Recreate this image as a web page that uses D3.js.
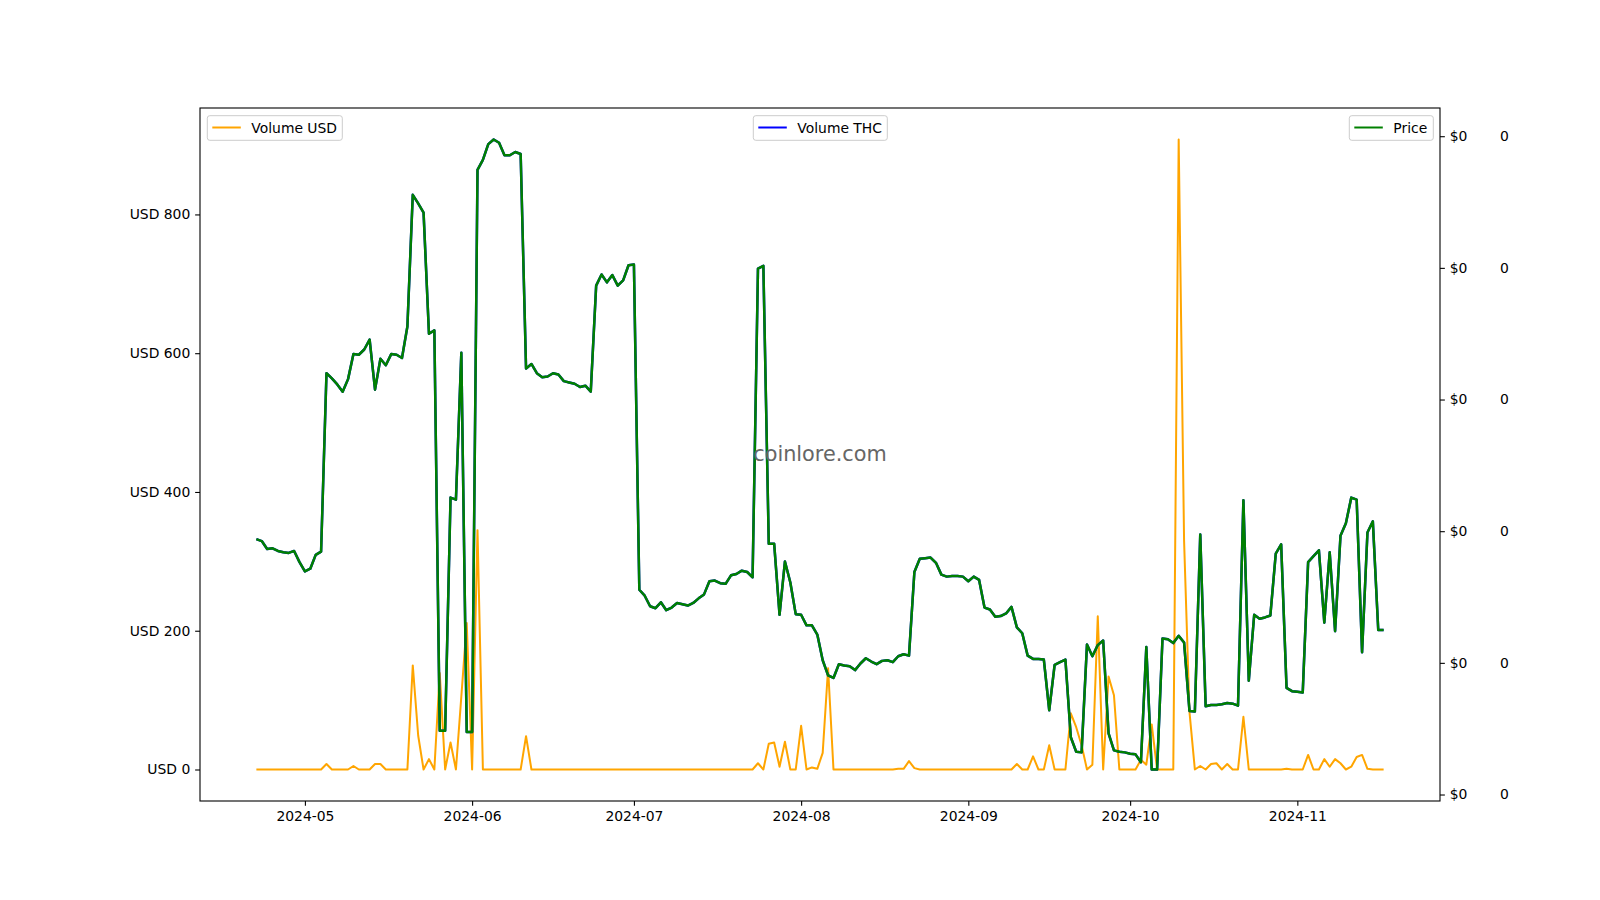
<!DOCTYPE html>
<html>
<head>
<meta charset="utf-8">
<script src="https://cdn.jsdelivr.net/npm/d3@7"></script>
<style>
  html, body { margin: 0; padding: 0; background: #ffffff; }
  svg { display: block; font-family: "DejaVu Sans", sans-serif; }
</style>
</head>
<body>
<svg id="chart" width="1600" height="900"></svg>
<script>
// ---- data ----
const startDate = "2024-04-22";
const endDate = "2024-11-17";

const volumeUSD = [
  0,0,0,0,0,0,0,0,0,0,
  0,0,0,8,0,0,0,0,5,0,
  0,0,8,8,0,0,0,0,0,150,
  49,0,15,0,139,0,39,0,105,211,
  0,345,0,0,0,0,0,0,0,0,
  48,0,0,0,0,0,0,0,0,0,
  0,0,0,0,0,0,0,0,0,0,
  0,0,0,0,0,0,0,0,0,0,
  0,0,0,0,0,0,0,0,0,0,
  0,0,0,9,0,37,39,4,40,0,
  0,63,0,3,1,24,146,0,0,0,
  0,0,0,0,0,0,0,0,0,1,
  1,12,2,0,0,0,0,0,0,0,
  0,0,0,0,0,0,0,0,0,0,
  0,8,0,0,19,0,0,35,0,0,
  0,81,61,35,0,7,221,0,134,107,
  0,0,0,0,14,7,65,0,0,0,
  0,908,330,83,0,5,0,8,9,0,
  8,0,0,76,0,0,0,0,0,0,
  0,1,0,0,0,21,0,0,15,4,
  15,9,0,4,18,21,1,0,0,0
];

const price = [
  0.1388,0.1385,0.1373,0.1374,0.1370,0.1368,0.1367,0.1370,0.1353,0.1339,
  0.1343,0.1364,0.1369,0.1640,0.1632,0.1623,0.1612,0.1631,0.1669,0.1668,
  0.1676,0.1691,0.1615,0.1662,0.1652,0.1669,0.1668,0.1663,0.1711,0.1911,
  0.1898,0.1884,0.1700,0.1705,0.1097,0.1097,0.1451,0.1448,0.1671,0.1095,
  0.1095,0.1949,0.1964,0.1988,0.1995,0.1990,0.1971,0.1971,0.1976,0.1973,
  0.1647,0.1654,0.1640,0.1634,0.1635,0.1640,0.1638,0.1628,0.1626,0.1624,
  0.1619,0.1621,0.1612,0.1773,0.1790,0.1778,0.1789,0.1773,0.1781,0.1804,
  0.1805,0.1311,0.1302,0.1286,0.1283,0.1292,0.1280,0.1284,0.1291,0.1289,
  0.1287,0.1291,0.1298,0.1304,0.1324,0.1325,0.1321,0.1320,0.1333,0.1335,
  0.1340,0.1338,0.1330,0.1799,0.1803,0.1381,0.1381,0.1273,0.1354,0.1322,
  0.1274,0.1273,0.1257,0.1257,0.1243,0.1204,0.1181,0.1177,0.1198,0.1196,
  0.1195,0.1189,0.1199,0.1207,0.1202,0.1198,0.1203,0.1204,0.1201,0.1210,
  0.1213,0.1211,0.1338,0.1358,0.1359,0.1360,0.1352,0.1334,0.1331,0.1332,
  0.1332,0.1331,0.1324,0.1331,0.1326,0.1284,0.1281,0.1270,0.1271,0.1275,
  0.1285,0.1254,0.1245,0.1211,0.1206,0.1206,0.1205,0.1128,0.1197,0.1201,
  0.1205,0.1087,0.1065,0.1064,0.1228,0.1210,0.1227,0.1234,0.1093,0.1067,
  0.1065,0.1064,0.1062,0.1061,0.1049,0.1224,0.1038,0.1038,0.1237,0.1236,
  0.1230,0.1241,0.1231,0.1127,0.1126,0.1395,0.1134,0.1136,0.1136,0.1137,
  0.1139,0.1138,0.1135,0.1447,0.1173,0.1273,0.1267,0.1269,0.1272,0.1366,
  0.1380,0.1162,0.1157,0.1156,0.1155,0.1353,0.1362,0.1371,0.1261,0.1368,
  0.1248,0.1393,0.1412,0.1451,0.1448,0.1216,0.1398,0.1415,0.1250,0.1250
];

// The blue "Volume THC" series lies exactly under the price line (its axis ticks coincide).
const volumeTHC = price;

const volumeTicks = [0, 200, 400, 600, 800];
const priceTicks = [0.10, 0.12, 0.14, 0.16, 0.18, 0.20];
const monthTicks = ["2024-05-01","2024-06-01","2024-07-01","2024-08-01","2024-09-01","2024-10-01","2024-11-01"];

const seriesNames = { usd: "Volume USD", thc: "Volume THC", price: "Price" };
const colors = { usd: "#ffa500", thc: "#0000ff", price: "#008000" };
const watermark = "coinlore.com";

// ---- layout ----
const L = 200, R = 1440, T = 108, B = 801;
const FONT = 13.9;
const TICK = 4.86;

const parse = d3.utcParse("%Y-%m-%d");
const dates = d3.utcDay.range(parse(startDate), d3.utcDay.offset(parse(endDate), 1));
const usdData = dates.map((d, i) => ({ d, v: volumeUSD[i] }));
const thcData = dates.map((d, i) => ({ d, v: volumeTHC[i] }));
const priceData = dates.map((d, i) => ({ d, v: price[i] }));

function padDomain(lo, hi) {
  const m = (hi - lo) * 0.05;
  return [lo - m, hi + m];
}

const t0 = +dates[0], t1 = +dates[dates.length - 1];
const x = d3.scaleUtc()
  .domain(padDomain(t0, t1).map(v => new Date(v)))
  .range([L, R]);

const yUsd = d3.scaleLinear()
  .domain(padDomain(d3.min(volumeUSD), d3.max(volumeUSD)))
  .range([B, T]);

const yPrice = d3.scaleLinear()
  .domain(padDomain(d3.min(price), d3.max(price)))
  .range([B, T]);

const yThc = d3.scaleLinear()
  .domain(padDomain(d3.min(volumeTHC), d3.max(volumeTHC)))
  .range([B, T]);

const svg = d3.select("#chart");
svg.append("rect").attr("width", 1600).attr("height", 900).attr("fill", "#ffffff");

svg.append("defs").append("clipPath").attr("id", "plotclip")
  .append("rect").attr("x", L).attr("y", T).attr("width", R - L).attr("height", B - T);

const plot = svg.append("g").attr("clip-path", "url(#plotclip)");

const lineGen = (ys) => d3.line().x(p => x(p.d)).y(p => ys(p.v));

plot.append("path").datum(usdData)
  .attr("d", lineGen(yUsd))
  .attr("fill", "none").attr("stroke", colors.usd)
  .attr("stroke-width", 2).attr("stroke-linejoin", "round");

plot.append("path").datum(thcData)
  .attr("d", lineGen(yThc))
  .attr("fill", "none").attr("stroke", colors.thc)
  .attr("stroke-width", 2.5).attr("stroke-linejoin", "round");

plot.append("path").datum(priceData)
  .attr("d", lineGen(yPrice))
  .attr("fill", "none").attr("stroke", colors.price)
  .attr("stroke-width", 2.5).attr("stroke-linejoin", "round");

// watermark
svg.append("text")
  .attr("x", (L + R) / 2).attr("y", (T + B) / 2 - 1)
  .attr("text-anchor", "middle").attr("dominant-baseline", "central")
  .attr("font-size", 20.8).attr("fill", "#666666")
  .text(watermark);

// axes
function styleAxis(g) {
  g.selectAll("text").attr("font-size", FONT).attr("fill", "#000").attr("font-family", "DejaVu Sans, sans-serif");
  g.selectAll("line").attr("stroke", "#000").attr("stroke-width", 1.1);
  g.select(".domain").remove();
}

svg.append("g").attr("transform", `translate(0,${B})`)
  .call(d3.axisBottom(x).tickValues(monthTicks.map(parse)).tickFormat(d3.utcFormat("%Y-%m"))
    .tickSize(TICK).tickPadding(4.86))
  .call(styleAxis);

svg.append("g").attr("transform", `translate(${L},0)`)
  .call(d3.axisLeft(yUsd).tickValues(volumeTicks).tickFormat(d => "USD " + d)
    .tickSize(TICK).tickPadding(4.86))
  .call(styleAxis);

svg.append("g").attr("transform", `translate(${R},0)`)
  .call(d3.axisRight(yPrice).tickValues(priceTicks).tickFormat(d3.format("$,.0f"))
    .tickSize(TICK).tickPadding(4.86))
  .call(styleAxis);

svg.append("g").attr("transform", `translate(${R + 50},0)`)
  .call(d3.axisRight(yThc).tickValues(priceTicks).tickFormat(d3.format(",.0f"))
    .tickSize(0).tickPadding(10))
  .call(styleAxis);

// frame
svg.append("rect").attr("x", L).attr("y", T).attr("width", R - L).attr("height", B - T)
  .attr("fill", "none").attr("stroke", "#000").attr("stroke-width", 1.1);

// legends
function legend(boxX, boxW, label, color) {
  const g = svg.append("g");
  g.append("rect").attr("x", boxX).attr("y", 115.7).attr("width", boxW).attr("height", 24.6)
    .attr("rx", 2.5).attr("fill", "#ffffff").attr("fill-opacity", 0.8)
    .attr("stroke", "#cccccc").attr("stroke-width", 1);
  g.append("line").attr("x1", boxX + 5).attr("x2", boxX + 33.5)
    .attr("y1", 127.5).attr("y2", 127.5)
    .attr("stroke", color).attr("stroke-width", 2);
  g.append("text").attr("x", boxX + 44).attr("y", 127.5)
    .attr("dominant-baseline", "central").attr("font-size", FONT).attr("fill", "#000")
    .text(label);
}
legend(207.3, 135, seriesNames.usd, colors.usd);
legend(753.3, 134, seriesNames.thc, colors.thc);
legend(1349.3, 84, seriesNames.price, colors.price);
</script>
</body>
</html>
